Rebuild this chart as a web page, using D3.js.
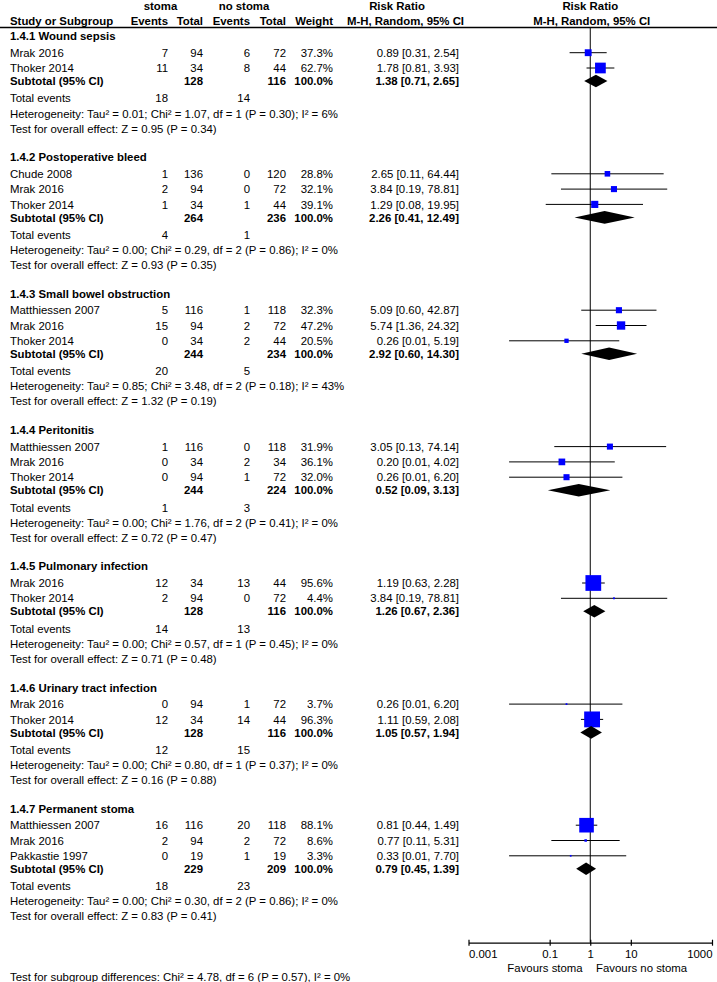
<!DOCTYPE html>
<html>
<head>
<meta charset="utf-8">
<script src="https://cdn.jsdelivr.net/npm/d3@7"></script>
<style>
  html, body { margin: 0; padding: 0; background: #fff; }
  svg { display: block; }
  text { font-family: "Liberation Sans", Arial, sans-serif; font-size: 11.4px; fill: #000; }
  .b { font-weight: bold; }
</style>
</head>
<body>
<div id="chart"></div>
<script>
// ---------------- DATA ----------------
const groupNames = [
  "1.4.1 Wound sepsis",
  "1.4.2 Postoperative bleed",
  "1.4.3 Small bowel obstruction",
  "1.4.4 Peritonitis",
  "1.4.5 Pulmonary infection",
  "1.4.6 Urinary tract infection",
  "1.4.7 Permanent stoma"
];
const studyGroup = [0,0, 1,1,1, 2,2,2, 3,3,3, 4,4, 5,5, 6,6,6];
const studyNames = [
  "Mrak 2016","Thoker 2014",
  "Chude 2008","Mrak 2016","Thoker 2014",
  "Matthiessen 2007","Mrak 2016","Thoker 2014",
  "Matthiessen 2007","Mrak 2016","Thoker 2014",
  "Mrak 2016","Thoker 2014",
  "Mrak 2016","Thoker 2014",
  "Matthiessen 2007","Mrak 2016","Pakkastie 1997"
];
const stomaEvents   = [7,11, 1,2,1, 5,15,0, 1,0,0, 12,2, 0,12, 16,2,0];
const stomaTotal    = [94,34, 136,94,34, 116,94,34, 116,34,94, 34,94, 94,34, 116,94,19];
const noStomaEvents = [6,8, 0,0,1, 1,2,2, 0,2,1, 13,0, 1,14, 20,2,1];
const noStomaTotal  = [72,44, 120,72,44, 118,72,44, 118,34,72, 44,72, 72,44, 118,72,19];
const weights       = [37.3,62.7, 28.8,32.1,39.1, 32.3,47.2,20.5, 31.9,36.1,32.0, 95.6,4.4, 3.7,96.3, 88.1,8.6,3.3];
const rr     = [0.89,1.78, 2.65,3.84,1.29, 5.09,5.74,0.26, 3.05,0.20,0.26, 1.19,3.84, 0.26,1.11, 0.81,0.77,0.33];
const rrLow  = [0.31,0.81, 0.11,0.19,0.08, 0.60,1.36,0.01, 0.13,0.01,0.01, 0.63,0.19, 0.01,0.59, 0.44,0.11,0.01];
const rrHigh = [2.54,3.93, 64.44,78.81,19.95, 42.87,24.32,5.19, 74.14,4.02,6.20, 2.28,78.81, 6.20,2.08, 1.49,5.31,7.70];

const subStomaTotal   = [128,264,244,244,128,128,229];
const subNoStomaTotal = [116,236,234,224,116,116,209];
const subRR     = [1.38,2.26,2.92,0.52,1.26,1.05,0.79];
const subLow    = [0.71,0.41,0.60,0.09,0.67,0.57,0.45];
const subHigh   = [2.65,12.49,14.30,3.13,2.36,1.94,1.39];
const totEventsStoma   = [18,4,20,1,14,12,18];
const totEventsNoStoma = [14,1,5,3,13,15,23];
const heterogeneity = [
  "Heterogeneity: Tau² = 0.01; Chi² = 1.07, df = 1 (P = 0.30); I² = 6%",
  "Heterogeneity: Tau² = 0.00; Chi² = 0.29, df = 2 (P = 0.86); I² = 0%",
  "Heterogeneity: Tau² = 0.85; Chi² = 3.48, df = 2 (P = 0.18); I² = 43%",
  "Heterogeneity: Tau² = 0.00; Chi² = 1.76, df = 2 (P = 0.41); I² = 0%",
  "Heterogeneity: Tau² = 0.00; Chi² = 0.57, df = 1 (P = 0.45); I² = 0%",
  "Heterogeneity: Tau² = 0.00; Chi² = 0.80, df = 1 (P = 0.37); I² = 0%",
  "Heterogeneity: Tau² = 0.00; Chi² = 0.30, df = 2 (P = 0.86); I² = 0%"
];
const overallEffect = [
  "Test for overall effect: Z = 0.95 (P = 0.34)",
  "Test for overall effect: Z = 0.93 (P = 0.35)",
  "Test for overall effect: Z = 1.32 (P = 0.19)",
  "Test for overall effect: Z = 0.72 (P = 0.47)",
  "Test for overall effect: Z = 0.71 (P = 0.48)",
  "Test for overall effect: Z = 0.16 (P = 0.88)",
  "Test for overall effect: Z = 0.83 (P = 0.41)"
];
const subgroupDiff = "Test for subgroup differences: Chi² = 4.78, df = 6 (P = 0.57), I² = 0%";
const tickValues = [0.001, 0.1, 1, 10, 1000];
const tickLabels = ["0.001", "0.1", "1", "10", "1000"];
const favoursLeft = "Favours stoma";
const favoursRight = "Favours no stoma";

// ---------------- LAYOUT ----------------
const W = 717, H = 982;
const col = {
  name: 10, stEv: 168, stTot: 203, noEv: 250, noTot: 286, weight: 333, rrText: 459
};
const axisY = 942.7;
const x = d3.scaleLog().domain([0.001, 1000]).range([468.5, 712]);

const svg = d3.select("#chart").append("svg").attr("width", W).attr("height", H);

function txt(xp, yp, s, anchor, bold) {
  return svg.append("text").attr("x", xp).attr("y", yp).attr("dy", "0.36em")
    .attr("text-anchor", anchor || "start").attr("class", bold ? "b" : null).text(s);
}
const fmt2 = d3.format(".2f");
const ciText = (m, l, h) => `${fmt2(m)} [${fmt2(l)}, ${fmt2(h)}]`;
const wFmt = w => d3.format(".1f")(w) + "%";

// header
txt(160.5, 5.7, "stoma", "middle", true);
txt(244, 5.7, "no stoma", "middle", true);
txt(397, 5.7, "Risk Ratio", "middle", true);
txt(x(1), 5.7, "Risk Ratio", "middle", true);
txt(col.name, 20.7, "Study or Subgroup", "start", true);
txt(col.stEv, 20.7, "Events", "end", true);
txt(col.stTot, 20.7, "Total", "end", true);
txt(col.noEv, 20.7, "Events", "end", true);
txt(col.noTot, 20.7, "Total", "end", true);
txt(col.weight, 20.7, "Weight", "end", true);
txt(405.5, 20.7, "M-H, Random, 95% CI", "middle", true);
txt(x(1) + 1.5, 20.7, "M-H, Random, 95% CI", "middle", true);
svg.append("line").attr("x1", 0).attr("x2", W).attr("y1", 27.5).attr("y2", 27.5)
  .attr("stroke", "#000").attr("stroke-width", 1.4);

// vertical line of no effect
svg.append("line").attr("x1", x(1)).attr("x2", x(1)).attr("y1", 27.5).attr("y2", axisY)
  .attr("stroke", "#000").attr("stroke-width", 1);

// rows
let y = 36;
const gPlot = svg.append("g");
groupNames.forEach((gName, gi) => {
  txt(col.name, y, gName, "start", true);
  const idx = studyGroup.map((g, i) => g === gi ? i : -1).filter(i => i >= 0);
  y += 16.7;
  idx.forEach((i, k) => {
    if (k > 0) y += 15.3;
    txt(col.name, y, studyNames[i]);
    txt(col.stEv, y, stomaEvents[i], "end");
    txt(col.stTot, y, stomaTotal[i], "end");
    txt(col.noEv, y, noStomaEvents[i], "end");
    txt(col.noTot, y, noStomaTotal[i], "end");
    txt(col.weight, y, wFmt(weights[i]), "end");
    txt(col.rrText, y, ciText(rr[i], rrLow[i], rrHigh[i]), "end");
    gPlot.append("line").attr("x1", x(rrLow[i])).attr("x2", x(rrHigh[i]))
      .attr("y1", y).attr("y2", y).attr("stroke", "#000").attr("stroke-width", 1);
    const s = 1.2 + 0.152 * weights[i];
    gPlot.append("rect").attr("x", x(rr[i]) - s / 2).attr("y", y - s / 2)
      .attr("width", s).attr("height", s).attr("fill", "#0000ff");
  });
  y += 13;
  txt(col.name, y, "Subtotal (95% CI)", "start", true);
  txt(col.stTot, y, subStomaTotal[gi], "end", true);
  txt(col.noTot, y, subNoStomaTotal[gi], "end", true);
  txt(col.weight, y, "100.0%", "end", true);
  txt(col.rrText, y, ciText(subRR[gi], subLow[gi], subHigh[gi]), "end", true);
  const hh = 6.3;
  gPlot.append("path")
    .attr("d", `M${x(subLow[gi])},${y}L${x(subRR[gi])},${y - hh}L${x(subHigh[gi])},${y}L${x(subRR[gi])},${y + hh}Z`)
    .attr("fill", "#000");
  y += 17.2;
  txt(col.name, y, "Total events");
  txt(col.stEv, y, totEventsStoma[gi], "end");
  txt(col.noEv, y, totEventsNoStoma[gi], "end");
  y += 15.2;
  txt(col.name, y, heterogeneity[gi]);
  y += 15;
  txt(col.name, y, overallEffect[gi]);
  y += 28.7;
});

// axis
const axis = d3.axisBottom(x).tickValues(tickValues)
  .tickFormat((d, i) => tickLabels[i]).tickSizeInner(3).tickSizeOuter(0).tickPadding(4.5);
const gAxis = svg.append("g").attr("transform", `translate(0,${axisY})`).call(axis);
gAxis.select(".domain").attr("stroke", "#000").attr("stroke-width", 1.2);
gAxis.selectAll(".tick line").attr("y1", -3).attr("y2", 3).attr("stroke", "#000").attr("stroke-width", 1.2);
gAxis.selectAll(".tick text").attr("font-size", "11.4px")
  .attr("font-family", "'Liberation Sans', Arial, sans-serif").attr("fill", "#000")
  .attr("text-anchor", (d, i, n) => i === 0 ? "start" : (i === n.length - 1 ? "end" : "middle"));

txt(582.7, 967.7, favoursLeft, "end");
txt(596, 967.7, favoursRight, "start");

txt(col.name, 977.3, subgroupDiff);
</script>
</body>
</html>
